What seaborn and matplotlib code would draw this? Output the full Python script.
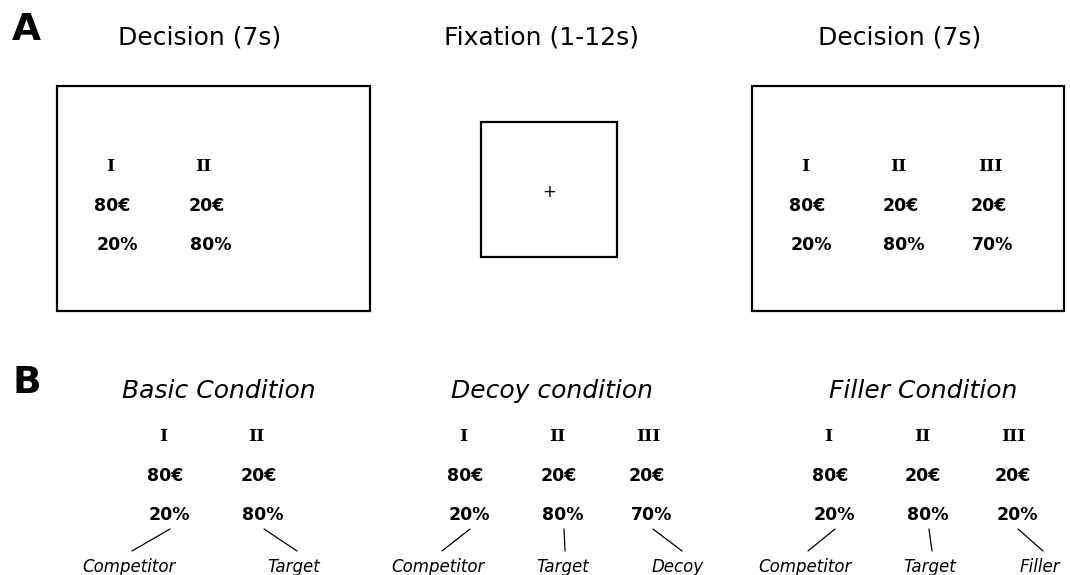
import matplotlib
matplotlib.use("Agg")
import matplotlib.pyplot as plt
import seaborn as sns
from matplotlib.patches import Rectangle

sns.set_theme(style="white")
plt.rcParams['font.family'] = ['DejaVu Sans']
plt.rcParams['text.color'] = 'black'

# ---- data ----
screen_titles = ["Decision (7s)", "Fixation (1-12s)", "Decision (7s)"]
numerals = ["I", "II", "III"]
basic_pay = ["80€", "20€"]
basic_prob = ["20%", "80%"]
decoy_pay = ["80€", "20€", "20€"]
decoy_prob = ["20%", "80%", "70%"]
filler_pay = ["80€", "20€", "20€"]
filler_prob = ["20%", "80%", "20%"]
cond_titles = ["Basic Condition", "Decoy condition", "Filler Condition"]
basic_roles = ["Competitor", "Target"]
decoy_roles = ["Competitor", "Target", "Decoy"]
filler_roles = ["Competitor", "Target", "Filler"]

W, H = 1070, 575
fig = plt.figure(figsize=(W / 100, H / 100), dpi=100)
ax = fig.add_axes([0, 0, 1, 1])
ax.set_xlim(0, W)
ax.set_ylim(H, 0)
ax.axis("off")

NUM_FONT = dict(family="DejaVu Serif", fontweight="bold", fontsize=12.5, color="black")
VAL_FONT = dict(family="DejaVu Sans", fontweight="bold", fontsize=12.5, color="black")

# Panel letters
ax.text(12, 40, "A", fontsize=27, fontweight="heavy", ha="left", va="baseline", color="black")
ax.text(13, 393, "B", fontsize=27, fontweight="heavy", ha="left", va="baseline", color="black")

# Panel A titles
for title, cx in zip(screen_titles, [200, 542, 900]):
    ax.text(cx, 45, title, fontsize=18, ha="center", va="baseline", color="black")

# Panel A boxes
for (x0, y0, x1, y1) in [(57, 86, 370, 311), (481, 122, 617, 257), (752, 86, 1064, 311)]:
    ax.add_patch(Rectangle((x0, y0), x1 - x0, y1 - y0, fill=False,
                           edgecolor="black", linewidth=1.6))
ax.text(549, 192, "+", fontsize=12, ha="center", va="center", color="black")


def option_block(num_x, pay_x, prob_x, pays, probs, ys):
    for i, (nx, px, qx) in enumerate(zip(num_x, pay_x, prob_x)):
        ax.text(nx, ys[0], numerals[i], ha="center", va="baseline", **NUM_FONT)
        ax.text(px, ys[1], pays[i], ha="center", va="baseline", **VAL_FONT)
        ax.text(qx, ys[2], probs[i], ha="center", va="baseline", **VAL_FONT)


yA = [171, 211, 250]
option_block([110, 203], [112, 207], [117, 211], basic_pay, basic_prob, yA)
option_block([805, 898, 990], [807, 901, 989], [811, 904, 993], decoy_pay, decoy_prob, yA)

# Panel B titles
for title, cx in zip(cond_titles, [219, 552, 923]):
    ax.text(cx, 398, title, fontsize=18, style="italic", ha="center", va="baseline", color="black")

yB = [441, 481, 520]
option_block([163, 256], [165, 259], [169, 263], basic_pay, basic_prob, yB)
option_block([463, 557, 648], [465, 559, 647], [469, 563, 652], decoy_pay, decoy_prob, yB)
option_block([828, 922, 1013], [830, 923, 1013], [834, 928, 1017], filler_pay, filler_prob, yB)

# connector lines and role labels
groups = [
    (basic_roles, [(170, 132), (264, 297)], [129, 294]),
    (decoy_roles, [(470, 442), (564, 565), (653, 682)], [438, 563, 678]),
    (filler_roles, [(835, 808), (929, 932), (1018, 1043)], [805, 930, 1040]),
]
for roles, lines, label_x in groups:
    for role, (xa, xb), lx in zip(roles, lines, label_x):
        ax.plot([xa, xb], [529, 551], color="black", linewidth=0.9)
        ax.text(lx, 572, role, fontsize=12, style="italic", ha="center", va="baseline", color="black")

fig.savefig("out.png", dpi=100, facecolor="white")
